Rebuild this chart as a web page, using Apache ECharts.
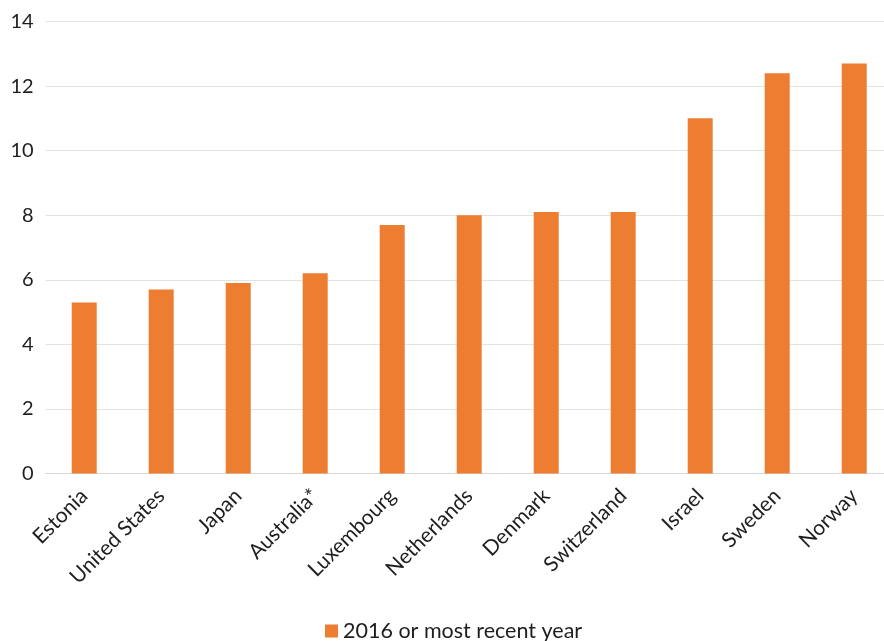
<!DOCTYPE html>
<html>
<head>
<meta charset="utf-8">
<script src="https://cdn.jsdelivr.net/npm/echarts@6/dist/echarts.min.js"></script>
<style>
  html, body { margin: 0; padding: 0; background: #ffffff; }
  #chart { width: 884px; height: 641px; }
</style>
</head>
<body>
<div id="chart"></div>
<script>
// Countries, ordered from lowest to highest value
const countries = ['Estonia', 'United States', 'Japan', 'Australia*', 'Luxembourg',
  'Netherlands', 'Denmark', 'Switzerland', 'Israel', 'Sweden', 'Norway'];

// Values for 2016 or the most recent year available
const values = [5.3, 5.7, 5.9, 6.2, 7.7, 8.0, 8.1, 8.1, 11.0, 12.4, 12.7];

const seriesName = '2016 or most recent year';

const yTicks = { min: 0, max: 14, interval: 2 };

const font = 'Lato, "Open Sans", sans-serif';
const textColor = '#1e1e1e';

const chart = echarts.init(document.getElementById('chart'));
chart.setOption({
  animation: false,
  backgroundColor: '#ffffff',
  // the plot runs slightly past the right edge of the canvas
  grid: { left: 45.7, width: 847, top: 21.5, bottom: 167.5, outerBoundsMode: 'none' },
  legend: {
    data: [seriesName],
    top: 620,
    left: 325,
    padding: 0,
    itemWidth: 13,
    itemHeight: 13,
    itemGap: 6,
    icon: 'rect',
    textStyle: { fontFamily: font, fontSize: 21.5, lineHeight: 22, color: textColor }
  },
  xAxis: {
    type: 'category',
    data: countries,
    axisLine: { lineStyle: { color: '#d9d9d9', width: 1 } },
    axisTick: { show: false },
    axisLabel: {
      rotate: 45,
      interval: 0,
      margin: 19,
      fontFamily: font,
      fontSize: 21,
      color: textColor
    }
  },
  yAxis: {
    type: 'value',
    min: yTicks.min,
    max: yTicks.max,
    interval: yTicks.interval,
    axisLine: { show: false },
    axisTick: { show: false },
    splitLine: { lineStyle: { color: '#e3e3e3', width: 1 } },
    axisLabel: {
      margin: 12,
      fontFamily: font,
      fontSize: 20,
      color: textColor
    }
  },
  series: [{
    name: seriesName,
    type: 'bar',
    data: values,
    barWidth: 25,
    itemStyle: { color: '#ED7D31' }
  }]
});
</script>
</body>
</html>
